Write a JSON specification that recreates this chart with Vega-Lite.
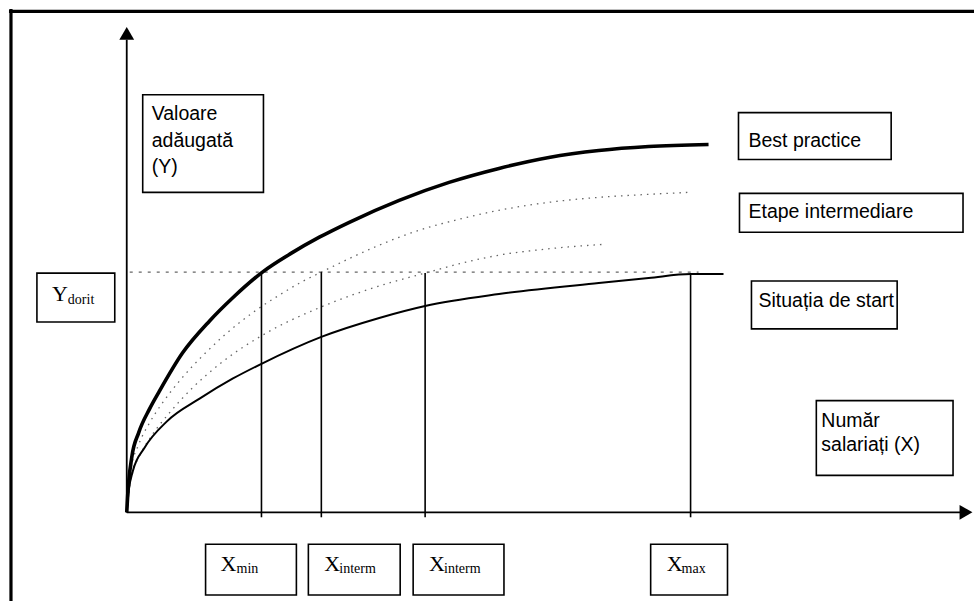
{
  "$schema": "https://vega.github.io/schema/vega-lite/v6.json",
  "width": 976,
  "height": 603,
  "autosize": {"type": "fit", "contains": "padding"},
  "padding": 0,
  "background": "white",
  "config": {"view": {"stroke": null}},
  "datasets": {
    "frame": [
      {"x": -118, "y": 502.5, "x2": 849, "y2": 502.5},
      {"x": -116, "y": 505, "x2": -116, "y2": -89}
    ],
    "axes": [
      {"x": 0, "y": 0, "x2": 0, "y2": 474},
      {"x": 0, "y": 0, "x2": 836, "y2": 0}
    ],
    "arrowUp": [{"x": 0, "y": 480.5}],
    "arrowRight": [{"x": 841, "y": 0}],
    "target": [{"x": 3, "y": 241, "x2": 573, "y2": 241}],
    "verticals": [
      {"x": 135, "y": -5, "x2": 135, "y2": 241},
      {"x": 195, "y": -5, "x2": 195, "y2": 241},
      {"x": 299, "y": -5, "x2": 299, "y2": 240},
      {"x": 565, "y": -5, "x2": 565, "y2": 239}
    ],
    "curves": [
      {"series": "best", "x": 0, "y": 0},
      {"series": "best", "x": 1, "y": 18},
      {"series": "best", "x": 5, "y": 55},
      {"series": "best", "x": 12, "y": 80},
      {"series": "best", "x": 23, "y": 104},
      {"series": "best", "x": 33, "y": 122},
      {"series": "best", "x": 56, "y": 160},
      {"series": "best", "x": 83, "y": 192},
      {"series": "best", "x": 106, "y": 215},
      {"series": "best", "x": 136, "y": 241},
      {"series": "best", "x": 165, "y": 260},
      {"series": "best", "x": 193, "y": 276},
      {"series": "best", "x": 223, "y": 291},
      {"series": "best", "x": 273, "y": 313},
      {"series": "best", "x": 323, "y": 331},
      {"series": "best", "x": 373, "y": 345},
      {"series": "best", "x": 423, "y": 356},
      {"series": "best", "x": 473, "y": 363},
      {"series": "best", "x": 523, "y": 367},
      {"series": "best", "x": 583, "y": 369},
      {"series": "start", "x": 0, "y": 0},
      {"series": "start", "x": 2, "y": 22},
      {"series": "start", "x": 6, "y": 41},
      {"series": "start", "x": 18, "y": 65},
      {"series": "start", "x": 40, "y": 91},
      {"series": "start", "x": 73, "y": 114},
      {"series": "start", "x": 106, "y": 134},
      {"series": "start", "x": 135, "y": 149},
      {"series": "start", "x": 195, "y": 176},
      {"series": "start", "x": 253, "y": 195},
      {"series": "start", "x": 299, "y": 207},
      {"series": "start", "x": 373, "y": 219},
      {"series": "start", "x": 473, "y": 230},
      {"series": "start", "x": 523, "y": 235},
      {"series": "start", "x": 565, "y": 239},
      {"series": "start", "x": 598, "y": 239},
      {"series": "mid1", "x": 0, "y": 0},
      {"series": "mid1", "x": 4, "y": 42},
      {"series": "mid1", "x": 12, "y": 68},
      {"series": "mid1", "x": 23, "y": 90},
      {"series": "mid1", "x": 36, "y": 110},
      {"series": "mid1", "x": 53, "y": 132},
      {"series": "mid1", "x": 76, "y": 157},
      {"series": "mid1", "x": 96, "y": 176},
      {"series": "mid1", "x": 130, "y": 203},
      {"series": "mid1", "x": 153, "y": 218},
      {"series": "mid1", "x": 175, "y": 231},
      {"series": "mid1", "x": 195, "y": 241},
      {"series": "mid1", "x": 226, "y": 256},
      {"series": "mid1", "x": 253, "y": 268},
      {"series": "mid1", "x": 293, "y": 283},
      {"series": "mid1", "x": 333, "y": 294},
      {"series": "mid1", "x": 373, "y": 303},
      {"series": "mid1", "x": 423, "y": 311},
      {"series": "mid1", "x": 473, "y": 316},
      {"series": "mid1", "x": 523, "y": 319},
      {"series": "mid1", "x": 563, "y": 321},
      {"series": "mid2", "x": 0, "y": 0},
      {"series": "mid2", "x": 4, "y": 34},
      {"series": "mid2", "x": 12, "y": 55},
      {"series": "mid2", "x": 23, "y": 74},
      {"series": "mid2", "x": 43, "y": 100},
      {"series": "mid2", "x": 66, "y": 125},
      {"series": "mid2", "x": 96, "y": 151},
      {"series": "mid2", "x": 140, "y": 180},
      {"series": "mid2", "x": 190, "y": 204},
      {"series": "mid2", "x": 226, "y": 218},
      {"series": "mid2", "x": 266, "y": 231},
      {"series": "mid2", "x": 299, "y": 240},
      {"series": "mid2", "x": 340, "y": 251},
      {"series": "mid2", "x": 373, "y": 258},
      {"series": "mid2", "x": 410, "y": 263},
      {"series": "mid2", "x": 440, "y": 266},
      {"series": "mid2", "x": 480, "y": 269}
    ],
    "boxes": [
      {"name": "Y axis title", "x": 16, "y": 419, "x2": 137, "y2": 321},
      {"name": "Ydorit", "x": -90, "y": 240, "x2": -12, "y2": 191},
      {"name": "Best practice", "x": 613, "y": 401, "x2": 766, "y2": 354},
      {"name": "Etape", "x": 614, "y": 320, "x2": 838, "y2": 281},
      {"name": "Start", "x": 626, "y": 232, "x2": 772, "y2": 184},
      {"name": "X axis title", "x": 691, "y": 112, "x2": 828, "y2": 37},
      {"name": "Xmin", "x": 79, "y": -32, "x2": 170, "y2": -83},
      {"name": "Xinterm1", "x": 182, "y": -32, "x2": 274, "y2": -83},
      {"name": "Xinterm2", "x": 287, "y": -32, "x2": 378, "y2": -83},
      {"name": "Xmax", "x": 525, "y": -32, "x2": 602, "y2": -83}
    ],
    "labels": [
      {"text": "Valoare", "x": 25, "y": 394},
      {"text": "adăugată", "x": 25, "y": 367},
      {"text": "(Y)", "x": 25, "y": 340},
      {"text": "Best practice", "x": 623, "y": 367},
      {"text": "Etape intermediare", "x": 623, "y": 295},
      {"text": "Situația de start", "x": 633, "y": 206},
      {"text": "Număr", "x": 696, "y": 86},
      {"text": "salariați (X)", "x": 696, "y": 61}
    ],
    "symbols": [
      {"text": "Y", "x": -75, "y": 212},
      {"text": "X", "x": 94, "y": -59},
      {"text": "X", "x": 198, "y": -59},
      {"text": "X", "x": 303, "y": -59},
      {"text": "X", "x": 541, "y": -59}
    ],
    "subs": [
      {"text": "dorit", "x": -59, "y": 209},
      {"text": "min", "x": 110, "y": -61},
      {"text": "interm", "x": 213, "y": -61},
      {"text": "interm", "x": 318, "y": -61},
      {"text": "max", "x": 556, "y": -61}
    ]
  },
  "encoding": {
    "x": {"field": "x", "type": "quantitative", "scale": {"domain": [-127, 849], "nice": false, "zero": false}, "axis": null},
    "y": {"field": "y", "type": "quantitative", "scale": {"domain": [-89, 514], "nice": false, "zero": false}, "axis": null}
  },
  "layer": [
    {
      "data": {"name": "target"},
      "mark": {"type": "rule", "color": "#666", "strokeWidth": 1.2, "strokeDash": [3, 6]},
      "encoding": {"x2": {"field": "x2"}, "y2": {"field": "y2"}}
    },
    {
      "data": {"name": "curves"},
      "transform": [{"filter": "datum.series === 'mid1' || datum.series === 'mid2'"}],
      "mark": {"type": "line", "interpolate": "monotone", "color": "#666", "strokeWidth": 1.3, "strokeDash": [1.5, 5]},
      "encoding": {"detail": {"field": "series"}}
    },
    {
      "data": {"name": "curves"},
      "transform": [{"filter": "datum.series === 'start'"}],
      "mark": {"type": "line", "interpolate": "monotone", "color": "black", "strokeWidth": 2}
    },
    {
      "data": {"name": "curves"},
      "transform": [{"filter": "datum.series === 'best'"}],
      "mark": {"type": "line", "interpolate": "monotone", "color": "black", "strokeWidth": 3.6}
    },
    {
      "data": {"name": "verticals"},
      "mark": {"type": "rule", "color": "black", "strokeWidth": 1.6},
      "encoding": {"x2": {"field": "x2"}, "y2": {"field": "y2"}}
    },
    {
      "data": {"name": "axes"},
      "mark": {"type": "rule", "color": "black", "strokeWidth": 1.8},
      "encoding": {"x2": {"field": "x2"}, "y2": {"field": "y2"}}
    },
    {
      "data": {"name": "arrowUp"},
      "mark": {"type": "point", "shape": "triangle-up", "filled": true, "color": "black", "size": 220, "opacity": 1}
    },
    {
      "data": {"name": "arrowRight"},
      "mark": {"type": "point", "shape": "triangle-right", "filled": true, "color": "black", "size": 220, "opacity": 1}
    },
    {
      "data": {"name": "frame"},
      "mark": {"type": "rule", "color": "black", "strokeWidth": 3.2},
      "encoding": {"x2": {"field": "x2"}, "y2": {"field": "y2"}}
    },
    {
      "data": {"name": "boxes"},
      "mark": {"type": "rect", "fill": "white", "stroke": "black", "strokeWidth": 1.6},
      "encoding": {"x2": {"field": "x2"}, "y2": {"field": "y2"}}
    },
    {
      "data": {"name": "labels"},
      "mark": {"type": "text", "align": "left", "baseline": "alphabetic", "font": "Liberation Sans", "fontSize": 19.5, "color": "black"},
      "encoding": {"text": {"field": "text"}}
    },
    {
      "data": {"name": "symbols"},
      "mark": {"type": "text", "align": "left", "baseline": "alphabetic", "font": "Liberation Serif", "fontSize": 22, "color": "black"},
      "encoding": {"text": {"field": "text"}}
    },
    {
      "data": {"name": "subs"},
      "mark": {"type": "text", "align": "left", "baseline": "alphabetic", "font": "Liberation Serif", "fontSize": 14, "color": "black"},
      "encoding": {"text": {"field": "text"}}
    }
  ]
}
